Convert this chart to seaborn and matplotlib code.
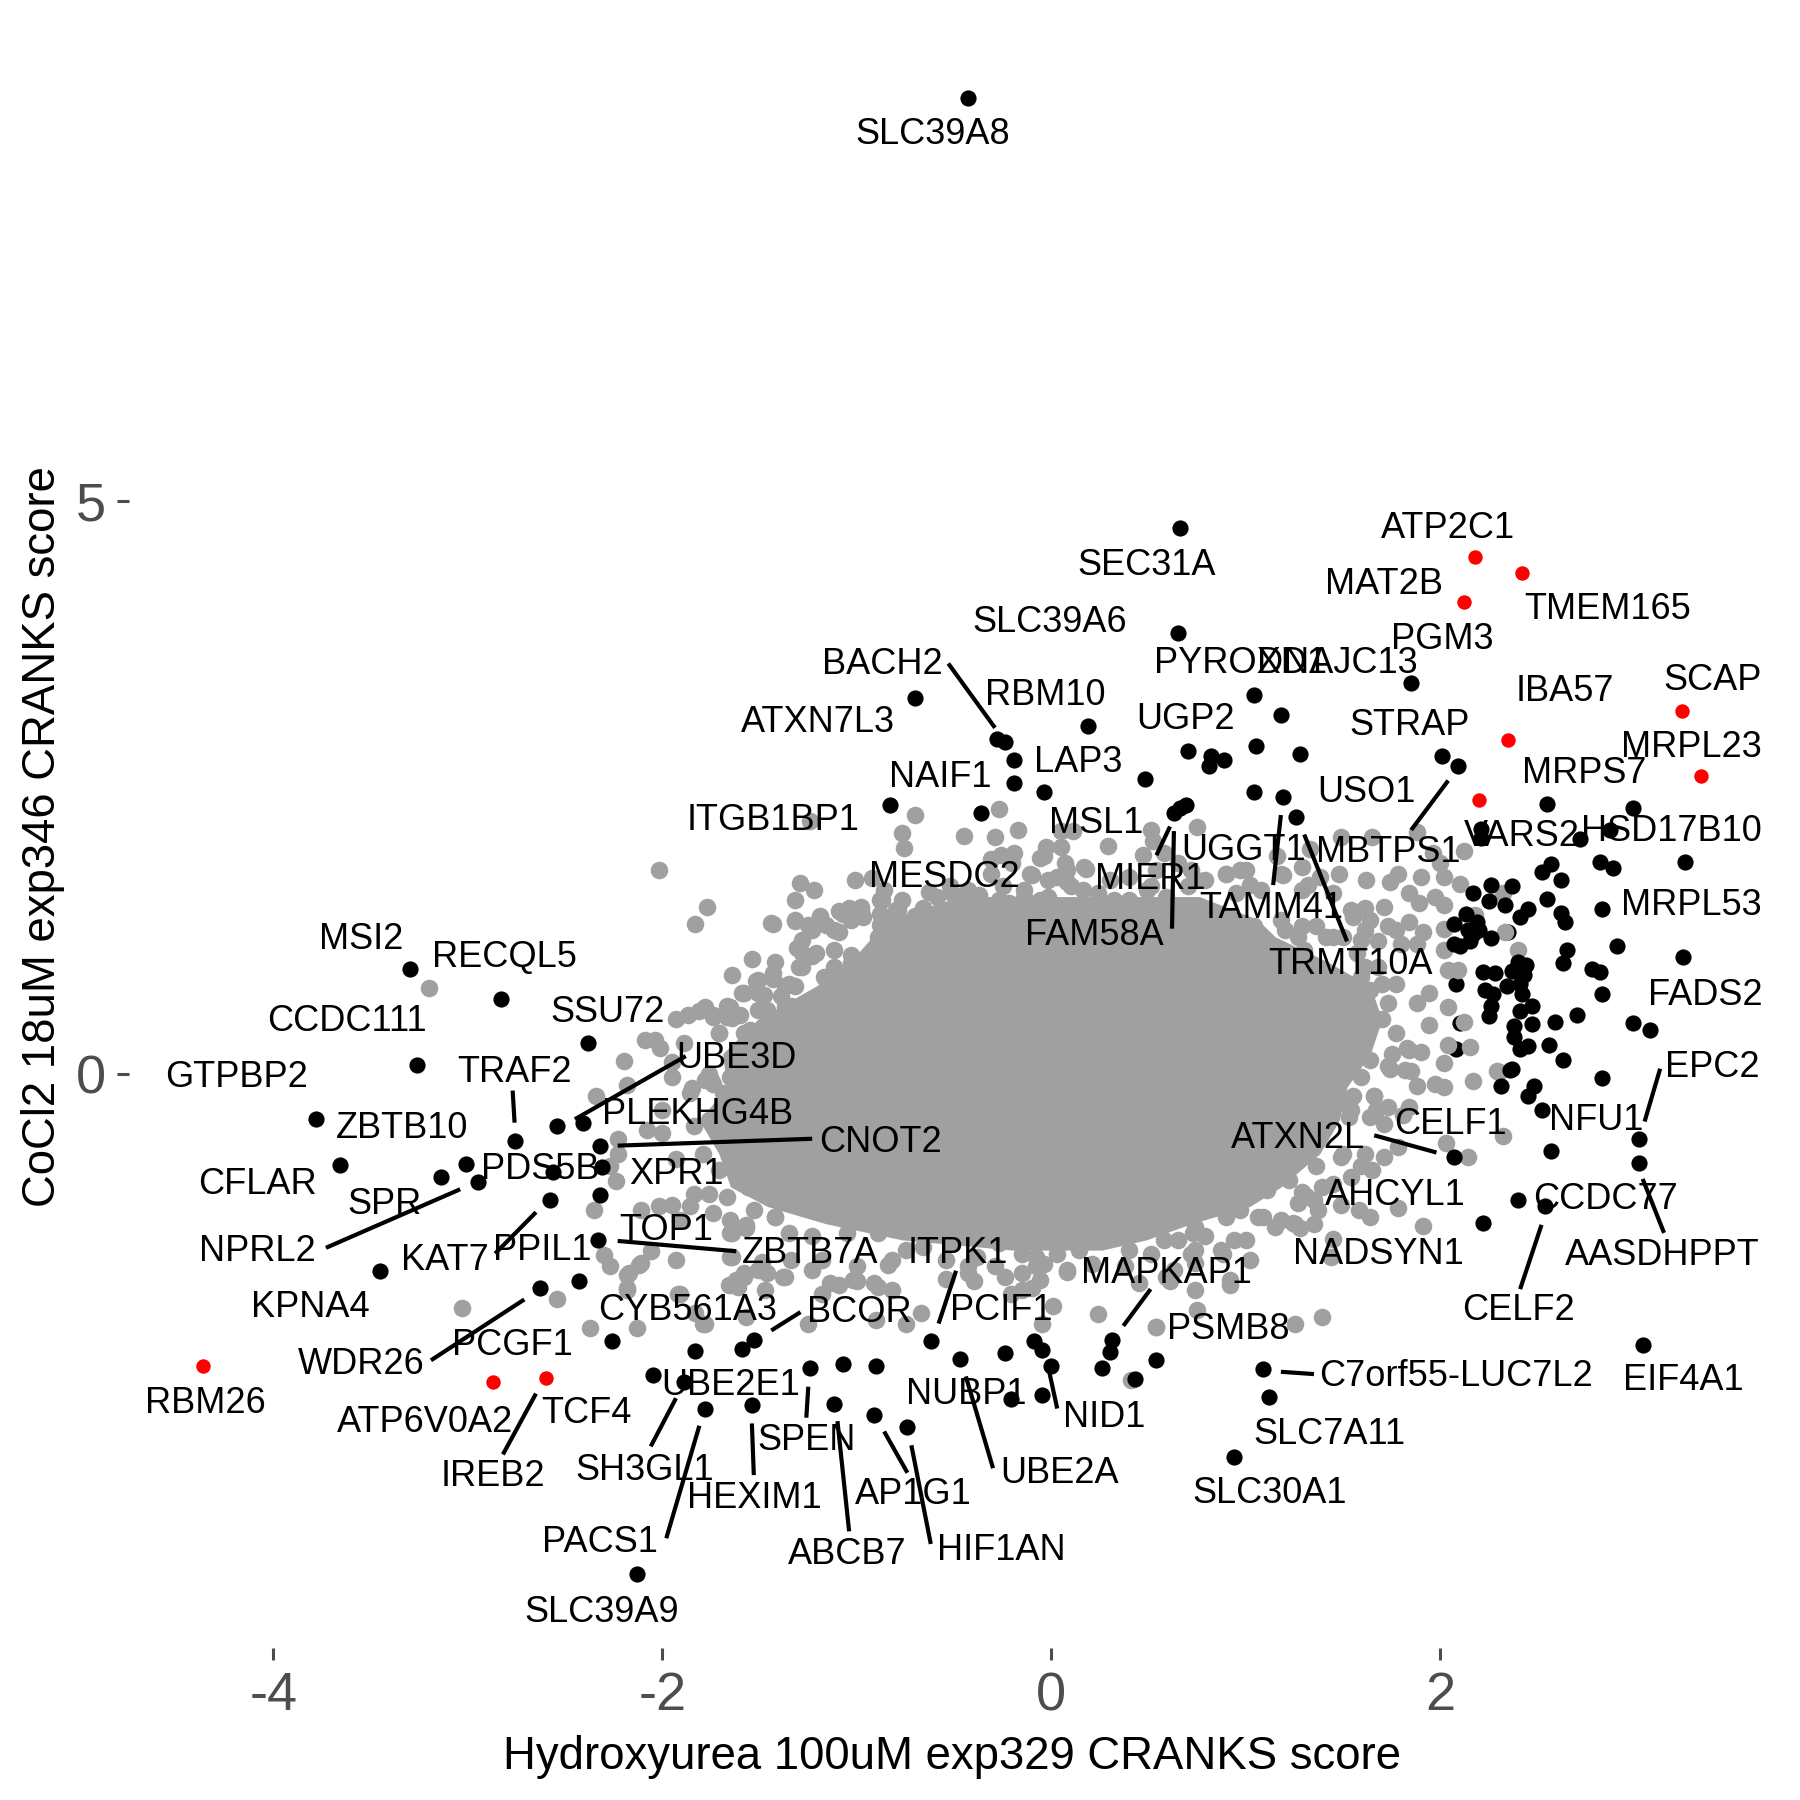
import numpy as np
import pandas as pd
import matplotlib.pyplot as plt
import seaborn as sns

# dense middle of the cloud, read row by row
core_y = [1.55, 1.35, 1.20, 0.99, 0.77, 0.48, 0.18, -0.11, -0.40, -0.69, -0.98, -1.15, -1.30, -1.44, -1.53]
core_left = [-0.47, -0.84, -0.92, -1.03, -1.21, -1.51, -1.69, -1.67, -1.81, -1.71, -1.65, -1.46, -1.16, -0.77, -0.20]
core_right = [0.76, 1.06, 1.15, 1.41, 1.64, 1.70, 1.64, 1.52, 1.48, 1.38, 1.18, 1.02, 0.72, 0.49, 0.26]

# lumps along the edge of the dense middle
band_x = [-0.88, -0.80, -0.66, -0.59, -0.45, -0.37, -0.25, -0.22, -0.11, -0.14, -0.02, 0.08, 0.17, 0.24, 0.26, 0.40, 0.49, 0.59, 0.70, 0.79,
          0.79, 0.90, 1.00, 0.88, 1.04, 1.18, 1.29, 1.36, 1.41, 1.50, 1.11, 1.30, 1.59, 1.64, 1.73, 1.61, 1.70, 1.77, 1.75, 1.64,
          1.59, 1.73, 1.66, 1.54, 1.64, 1.50, 1.36, 1.22, 1.11, 0.97, 1.00, 0.90, 0.74, 0.79, 0.65, 0.58, 0.51, 0.40, 0.26, 0.14,
          0.03, -0.04, -0.15, -0.27, -0.38, -0.52, -0.66, -0.75, -0.89, -1.05, -1.23, -1.35, -1.42, -1.53, -1.58, -1.67, -1.71, -1.60, -1.76, -1.67,
          -1.74, -1.65, -1.58, -1.67, -1.74, -1.46, -1.51, -1.37, -1.32, -1.28, -1.21, -1.12, -1.03, -1.12, -0.89, -0.80, -0.98, -1.07, -1.19,
          -0.77, -0.87, -0.70, -0.59, -0.52, -0.43, -0.31, -0.20, -0.04, 0.03, 0.10, 0.30, 0.40, 0.54, 0.65, 0.58, 0.72,
          0.95, 1.08, 1.18, 1.29, 1.38, 1.45, 1.54, 1.64, 1.57, 1.68, 1.61, 1.77, 1.70,
          1.45, 1.73, 1.59, 1.45, 1.31, 1.25, 1.18, 1.06, 1.00, 0.88, 0.92, 0.72,
          0.63, 0.21, 0.08, -0.08, -0.06, -0.15, -0.29, -0.43, -0.82, -0.91, -1.02, -1.14, -1.23, -1.37, -1.51, -1.58, -1.65, -1.62,
          -1.74, -1.65, -1.76, -1.78, -1.76, -1.71, -1.78, -1.65, -1.58, -1.51, -1.43, -1.37, -1.30, -1.44, -1.32, -1.23, -1.03]
band_y = [1.52, 1.43, 1.45, 1.55, 1.51, 1.56, 1.64, 1.49, 1.75, 1.55, 1.55, 1.78, 1.81, 1.58, 1.49, 1.52, 1.61, 1.55, 1.64, 1.69,
          1.38, 1.75, 1.78, 1.35, 1.29, 1.35, 1.29, 1.29, 1.20, 1.20, 1.11, 1.08, 0.85, 0.74, 0.62, 0.50, 0.48, 0.36, 0.18, 0.13,
          -0.02, 0.07, -0.19, -0.31, -0.37, -0.69, -0.80, -0.92, -1.01, -1.18, -1.06, -1.24, -1.33, -1.41, -1.44, -1.44, -1.56, -1.53, -1.44, -1.53,
          -1.56, -1.65, -1.56, -1.47, -1.59, -1.47, -1.50, -1.53, -1.38, -1.38, -1.41, -1.38, -1.24, -1.18, -1.33, -1.07, -0.83, -0.80, -0.40, -0.22,
          -0.08, -0.02, 0.36, 0.50, 0.50, 0.56, 0.71, 0.59, 0.77, 1.06, 1.06, 0.94, 0.97, 1.26, 1.20, 1.32, 1.43, 1.40, 1.38,
          1.52, 1.38, 1.38, 1.40, 1.64, 1.61, 1.75, 1.84, 1.90, 1.72, 1.64, 1.69, 1.72, 1.78, 1.84, 1.93, 1.78,
          1.58, 1.61, 1.75, 1.61, 1.72, 1.58, 1.43, 1.35, 1.06, 0.94, 0.94, 0.79, 0.79,
          -0.19, -0.28, -0.80, -0.95, -1.06, -1.30, -1.27, -1.24, -1.44, -1.56, -1.79, -1.56,
          -1.70, -1.65, -1.70, -1.59, -1.79, -1.73, -1.67, -1.73, -1.62, -1.82, -1.79, -1.82, -1.70, -1.76, -1.70, -1.76, -1.59, -1.79,
          -1.21, -1.27, -1.04, -0.05, 0.00, 0.36, 0.59, 0.59, 0.71, 0.82, 0.88, 0.77, 0.94, 1.32, 1.35, 1.26, 1.35]

# gray points around the edge of the cloud
gray_x = [-2.02, -0.27, -0.70, -1.24, -0.77, -0.76, -0.45, -0.29, -0.17, -0.19, -0.26, -0.31, -0.03, -0.06, 0.05, 0.07, 0.05, 0.11, 0.29, 0.51, 0.52, 0.47, 0.75,
          -1.01, -0.92, -1.29, -1.22, -1.32, -1.77, -1.83, -1.43, -1.32, -1.25, -1.19, -1.09, -1.04, -0.98, -0.97, -0.86, -0.87, -0.88, -0.79, -0.88,
          -0.66, -0.60, -0.75, -0.63, -0.51, -0.40, -0.10, -0.14, -0.02, 0.08, 0.18, 0.16, -0.27, -0.06, 0.32, 0.51, 0.75,
          -1.16, -1.09, -1.28, -1.12, -1.03, -1.31, -1.23, -1.42, -1.54, -1.64, -1.52, -1.43, -1.35, -1.28, -1.17, -1.08, -0.96,
          -1.59, -1.48, -1.39, -1.34, -1.51, -1.67, -1.74, -1.81, -1.87, -1.93, -1.60, -1.64, -1.71, -1.55, -2.09, -2.04, -2.01, -1.89, -2.20, -2.18,
          -1.95, -1.95, -1.85, -1.75, -1.69,
          -3.20, -2.34, -2.23, -2.08, -2.00, -2.23, -2.27, -2.24, -2.35, -2.30, -2.27, -2.17, -2.11, -1.93, -2.06, -2.18, -2.37, -2.13, -2.54, -3.03,
          -1.79, -1.91, -1.38, -1.47, -1.61, -1.64, -1.57, -1.64, -1.49, -1.84, -1.86, -1.91, -2.02, -2.11, -1.95, -1.93, -1.79, -1.63, -2.00, -1.86, -1.75,
          -1.84, -1.68, -1.49, -1.56, -1.42,
          -2.18, -2.12, -2.18, -1.92, -1.65, -1.57, -1.58, -1.49, -1.66, -1.83, -1.78, -1.57,
          -1.25, -1.18, -1.09, -1.00, -0.89, -0.82, -0.75, -0.90, -0.67, -0.54, -0.40, -0.24, -0.15, 0.01, -0.05, -0.10, -0.21, 0.08, 0.24, 0.54, 0.41,
          0.45, 0.61, 0.38, -1.00, -0.84, -1.18, -1.34, -1.46, -0.43, -0.54, -0.08, 0.74, 0.74,
          2.12, 2.15, 2.04, 2.02, 1.90, 1.83, 1.82, 1.74, 2.30, 2.17, 2.02, 1.97, 1.88, 1.66, 1.67, 1.71, 1.55, 1.50, 1.53, 1.84, 1.81,
          2.32, 2.14, 2.03, 1.78, 1.71, 1.61, 1.49, 1.65, 1.54, 1.39, 1.29, 1.27, 1.35, 1.37, 1.49, 1.58, 1.64, 1.78, 1.91,
          1.35, 1.28, 1.24, 1.15, 1.09, 1.45, 1.44, 0.94, 0.87, 1.02, 0.73, 0.74, 0.92, 0.59, 0.75, 0.54, 1.25, 1.39,
          1.88, 2.12, 2.00, 1.96, 1.65, 1.49, 1.33, 1.16, 1.78, 1.74, 1.90, 2.02, 2.10, 1.62, 1.48, 1.29, 1.19, 1.32, 0.90, 0.97, 1.02,
          1.84, 1.89, 1.97, 2.02, 2.32, 2.18, 2.33, 1.61, 1.71, 1.55, 1.91, 2.02, 1.84, 1.77, 1.73, 1.61, 1.59, 1.68, 1.80, 1.88, 2.02, 2.40, 2.09, 2.04,
          1.94, 2.04, 1.88, 1.94, 2.29, 1.84, 1.85, 1.45, 1.27, 1.20]
gray_y = [1.78, 2.31, 2.26, 2.21, 2.10, 1.97, 2.08, 2.07, 2.13, 1.93, 1.91, 1.88, 1.98, 1.89, 1.98, 1.84, 2.12, 2.12, 1.99, 2.13, 2.03, 1.91, 2.16,
          1.69, 1.71, 1.67, 1.61, 1.52, 1.46, 1.31, 1.31, 1.34, 1.30, 1.37, 1.42, 1.45, 1.46, 1.37, 1.61, 1.52, 1.40, 1.43, 1.30,
          1.43, 1.40, 1.29, 1.59, 1.58, 1.55, 1.74, 1.61, 1.69, 1.68, 1.79, 1.61, 1.52, 1.52, 1.52, 1.64, 1.69,
          1.30, 1.24, 1.17, 1.08, 1.04, 1.10, 1.03, 0.98, 1.01, 0.87, 0.81, 0.83, 0.79, 0.94, 0.85, 0.87, 0.91,
          0.71, 0.69, 0.68, 0.60, 0.56, 0.60, 0.52, 0.55, 0.52, 0.48, 0.52, 0.49, 0.36, 0.39, 0.30, 0.30, 0.23, 0.27, 0.12, -0.09,
          0.11, -0.02, -0.12, -0.06, -0.16,
          0.75, -0.19, -0.56, -0.48, -0.51, -0.69, -0.80, -0.93, -1.18, -1.57, -1.67, -1.73, -1.64, -1.62, -1.54, -1.86, -2.21, -2.21, -1.96, -2.03,
          -2.17, -1.91, -1.76, -1.88, -1.85, -1.38, -1.31, -1.59, -1.63, -1.04, -1.15, -1.27, -1.15, -1.18, -1.14, -0.74, -0.69, -0.80, -0.31, -0.16, -0.05,
          -0.45, -0.48, -0.54, -0.98, -1.24,
          -1.75, -1.66, -1.88, -1.91, -1.38, -1.34, -1.73, -1.70, -1.83, -2.08, -2.17, -2.11,
          -2.17, -1.91, -1.83, -1.80, -1.85, -1.88, -2.17, -2.14, -2.08, -1.78, -1.80, -1.76, -1.88, -2.02, -2.17, -1.86, -1.91, -1.72, -2.09, -2.20, -2.66,
          -1.82, -1.80, -1.67, -1.67, -1.66, -1.62, -1.62, -1.73, -1.67, -1.62, -1.67, -1.64, -1.88,
          0.46, 0.24, 0.26, 0.10, 0.20, 0.23, 0.04, 0.05, 0.02, -0.06, -0.11, -0.08, -0.10, -0.19, -0.31, -0.43, -0.19, -0.25, -0.37, -0.28, -0.35,
          -0.54, -0.72, -0.60, -0.63, -0.72, -0.69, -0.72, -0.83, -0.89, -0.98, -1.02, -1.12, -1.09, -1.18, -1.14, -1.18, -1.24, -1.16, -1.32,
          -1.30, -1.34, -1.29, -1.33, -1.24, -1.43, -1.59, -1.44, -1.53, -1.62, -1.38, -1.53, -1.83, -1.76, -2.05, -2.20, -2.17, -2.11,
          2.11, 1.95, 1.84, 1.93, 2.07, 2.07, 1.96, 1.90, 1.75, 1.68, 1.72, 1.72, 1.66, 1.69, 1.75, 1.81, 1.74, 1.65, 1.75, 1.78, 1.65,
          1.58, 1.49, 1.55, 1.48, 1.58, 1.39, 1.24, 1.45, 1.46, 1.37, 1.24, 1.27, 1.33, 1.26, 1.29, 1.26, 1.17, 1.16, 1.14, 1.14, 1.08, 1.08, 0.91, 0.91,
          0.71, 0.59, 0.62, 0.43, 0.03, 0.21, 0.03, 1.20, 1.20, 1.26]

# black points that sit behind the gray ones
under_x = [2.35, 2.08, 2.10, 2.08]
under_y = [1.24, 0.79, 0.45, 0.22]

black_x = [-0.43, 0.66, 0.65, 1.85, -0.70, 1.04, 1.18, 1.05, 1.28, 0.82, 0.81, 0.89, 2.01, 2.09, 1.04, 1.19, 1.26, 2.55, 2.99, 2.87, 2.72, 2.21, 2.21,
           3.26, 2.57, 2.52, 2.82, 2.89, 2.62, 2.26, 2.37, 2.17, 2.25, 2.33, 2.55, 2.45, 2.41, 2.62, 2.64, 2.83, 2.13, 2.07, 2.19, 2.14, 2.20, 2.17, 2.26,
           2.07, 2.10, 2.15, 2.91, 2.65, 2.63, 3.25, 2.40, 2.44, 2.22, 2.28, 2.37, 2.43, 2.78, 2.82, 2.34, 2.41, 2.23, 2.27, 2.42, 2.83, 2.47, 2.26, 2.41,
           2.70, 2.25, 2.59, 2.47, 2.38, 2.38, 2.99, 3.08, 2.56, 2.45, 2.41, 2.63, 2.37, 2.83, 2.31, 2.48, 2.45, 2.36, 2.52,
           3.02, 3.02, 2.57, 2.40, 2.54, 2.22, 2.07, 3.04, 1.09, 1.12, 0.94, 0.54,
           -2.31, -2.56, -2.32, -2.58, -2.33, -2.43, -2.63, -2.26, -1.83, -1.53, -1.59, -2.05, -1.89, -1.78, -1.54, -1.24, -1.07, -0.90, -1.12, -0.91, -0.74,
           -0.62, -0.47, -0.24, -0.09, -0.05, 0.00, -0.21, -0.05, 0.31, 0.30, 0.26, 0.43, -2.13,
           -3.30, -2.83, -3.26, -2.38, -3.78, -2.41, -2.54, -2.76, -2.32, -3.66, -3.01, -3.14, -2.95, -3.45,
           -0.83, -0.36, 0.19, -0.28, -0.24, -0.19, -0.19, -0.04, 0.48, 0.70, 0.63, 0.66, 0.69]
black_y = [8.51, 4.76, 3.85, 3.41, 3.28, 3.31, 3.13, 2.86, 2.79, 2.77, 2.69, 2.74, 2.77, 2.69, 2.46, 2.42, 2.24, 2.36, 2.32, 2.13, 2.05, 2.14, 2.06,
           1.85, 1.83, 1.76, 1.85, 1.80, 1.69, 1.65, 1.64, 1.58, 1.51, 1.48, 1.53, 1.44, 1.37, 1.41, 1.33, 1.44, 1.40, 1.31, 1.33, 1.26, 1.26, 1.22, 1.19,
           1.14, 1.12, 1.16, 1.12, 1.08, 0.97, 1.02, 0.98, 0.95, 0.89, 0.88, 0.90, 0.87, 0.92, 0.89, 0.77, 0.79, 0.74, 0.70, 0.70, 0.70, 0.60, 0.60, 0.55,
           0.52, 0.51, 0.46, 0.44, 0.42, 0.33, 0.45, 0.39, 0.26, 0.25, 0.22, 0.13, 0.05, -0.03, -0.10, -0.10, -0.19, 0.04, -0.31,
           -0.56, -0.77, -0.67, -1.09, -1.15, -1.29, -0.72, -2.36, -2.57, -2.81, -3.33, -2.49,
           -0.81, -0.85, -1.05, -1.09, -1.44, -1.80, -1.86, -2.32, -2.41, -2.31, -2.39, -2.62, -2.68, -2.91, -2.88, -2.56, -2.52, -2.54, -2.87, -2.97, -3.07,
           -2.32, -2.48, -2.43, -2.32, -2.40, -2.54, -2.83, -2.79, -2.31, -2.42, -2.56, -2.65, -4.35,
           0.92, 0.66, 0.08, 0.27, -0.39, -0.42, -0.45, -0.58, -0.62, -0.79, -0.78, -0.89, -0.94, -1.71,
           2.35, 2.28, 3.04, 2.92, 2.90, 2.74, 2.54, 2.46, 2.57, 2.82, 2.28, 2.32, 2.35]

red_x = [-4.36, -2.87, -2.60, 3.24, 2.35, 3.34, 2.20, 2.18, 2.42, 2.12]
red_y = [-2.54, -2.68, -2.64, 3.17, 2.91, 2.60, 2.39, 4.51, 4.37, 4.12]

label_names = ['SLC39A8', 'SEC31A', 'ATP2C1', 'MAT2B', 'TMEM165', 'SLC39A6', 'PGM3', 'BACH2', 'PYROXD1', 'DNAJC13',
               'SCAP', 'IBA57', 'RBM10', 'ATXN7L3', 'UGP2', 'STRAP', 'MRPL23', 'LAP3', 'NAIF1', 'MRPS7',
               'USO1', 'ITGB1BP1', 'MSL1', 'VARS2', 'HSD17B10', 'UGGT1', 'MBTPS1', 'MESDC2', 'MIER1', 'TAMM41',
               'MRPL53', 'FAM58A', 'MSI2', 'RECQL5', 'TRMT10A', 'FADS2', 'CCDC111', 'SSU72', 'UBE3D', 'TRAF2',
               'GTPBP2', 'EPC2', 'PLEKHG4B', 'NFU1', 'ZBTB10', 'CELF1', 'ATXN2L', 'CNOT2', 'PDS5B', 'XPR1',
               'CFLAR', 'AHCYL1', 'CCDC77', 'SPR', 'TOP1', 'NPRL2', 'PPIL1', 'ZBTB7A', 'ITPK1', 'NADSYN1',
               'AASDHPPT', 'KAT7', 'MAPKAP1', 'KPNA4', 'CYB561A3', 'BCOR', 'PCIF1', 'CELF2', 'PSMB8', 'PCGF1',
               'WDR26', 'C7orf55-LUC7L2', 'EIF4A1', 'UBE2E1', 'NUBP1', 'RBM26', 'TCF4', 'NID1', 'ATP6V0A2', 'SLC7A11',
               'SPEN', 'SH3GL1', 'IREB2', 'UBE2A', 'AP1G1', 'HEXIM1', 'SLC30A1', 'PACS1', 'ABCB7', 'HIF1AN', 'SLC39A9']
label_x = [-0.61, 0.49, 2.04, 1.71, 2.86, -0.01, 2.01, -0.87, 0.97, 1.47,
           3.40, 2.64, -0.03, -1.20, 0.69, 1.84, 3.29, 0.14, -0.57, 2.74,
           1.62, -1.43, 0.23, 2.42, 3.19, 0.99, 1.73, -0.55, 0.51, 1.13,
           3.29, 0.22, -3.55, -2.81, 1.54, 3.36, -3.62, -2.28, -1.62, -2.76,
           -4.19, 3.40, -1.82, 2.80, -3.34, 2.05, 1.27, -0.88, -2.63, -1.93,
           -4.08, 1.77, 2.85, -3.43, -1.98, -4.08, -2.62, -1.24, -0.48, 1.68,
           3.14, -3.12, 0.59, -3.81, -1.87, -0.99, -0.26, 2.40, 0.91, -2.77,
           -3.55, 2.08, 3.25, -1.65, -0.44, -4.35, -2.39, 0.27, -3.22, 1.43,
           -1.26, -2.09, -2.87, 0.04, -0.71, -1.53, 1.12, -2.32, -1.05, -0.26, -2.31]
label_y = [8.19, 4.43, 4.76, 4.27, 4.05, 3.94, 3.79, 3.57, 3.58, 3.58,
           3.43, 3.34, 3.30, 3.07, 3.09, 3.04, 2.85, 2.72, 2.59, 2.62,
           2.46, 2.21, 2.19, 2.07, 2.12, 1.95, 1.93, 1.72, 1.70, 1.45,
           1.47, 1.21, 1.18, 1.02, 0.96, 0.69, 0.46, 0.54, 0.14, 0.02,
           -0.03, 0.06, -0.35, -0.40, -0.47, -0.44, -0.56, -0.59, -0.83, -0.87,
           -0.96, -1.05, -1.09, -1.13, -1.36, -1.54, -1.53, -1.56, -1.56, -1.57,
           -1.58, -1.62, -1.73, -2.03, -2.06, -2.07, -2.06, -2.06, -2.22, -2.36,
           -2.53, -2.63, -2.67, -2.71, -2.79, -2.87, -2.95, -2.99, -3.03, -3.14,
           -3.19, -3.45, -3.50, -3.48, -3.66, -3.69, -3.65, -4.08, -4.18, -4.15, -4.69]

# connector lines between labels and points
seg_x0 = [-0.53, -1.88, -2.77, -1.23, -3.73, -2.65, -2.23, -2.71, -2.65, -1.93, -1.81, -1.54, -1.25, -1.10, -0.86, -0.72, -0.44, -0.02,
          -1.29, -0.49, 0.51, 1.66, 3.13, 3.04, 2.52, 1.18, 2.04, 1.18, 1.30, 0.61, 0.63]
seg_y0 = [3.58, 0.16, -0.14, -0.56, -1.51, -1.20, -1.45, -1.96, -2.78, -2.82, -3.06, -3.04, -2.72, -3.02, -3.11, -3.23, -2.63, -2.52,
          -2.07, -1.71, -1.87, -0.53, 0.05, -0.91, -1.31, -2.59, 2.56, 2.26, 2.09, 2.16, 2.12]
seg_x1 = [-0.29, -2.45, -2.76, -2.23, -3.04, -2.86, -1.62, -3.19, -2.82, -2.06, -1.98, -1.53, -1.26, -1.04, -0.74, -0.62, -0.30, 0.03,
          -1.44, -0.58, 0.37, 1.98, 3.05, 3.15, 2.41, 1.35, 1.85, 1.14, 1.52, 0.54, 0.62]
seg_y1 = [3.02, -0.39, -0.42, -0.62, -1.00, -1.56, -1.54, -2.49, -3.31, -3.24, -4.04, -3.49, -2.99, -3.98, -3.47, -4.09, -3.43, -2.91,
          -2.23, -2.17, -2.19, -0.68, -0.41, -1.38, -1.87, -2.61, 2.13, 1.65, 1.16, 1.91, 1.27]

x_ticks = [-4, -2, 0, 2]
y_ticks = [0, 5]

sns.set_theme(style='white')
plt.rcParams['font.family'] = ['Liberation Sans', 'DejaVu Sans']
plt.rcParams['axes.unicode_minus'] = False

fig = plt.figure(figsize=(9, 9), dpi=200)
ax = fig.add_axes([0.0714, 0.0842, 0.9152, 0.9024])

under = pd.DataFrame({'x': under_x, 'y': under_y})
gray = pd.DataFrame({'x': gray_x + band_x, 'y': gray_y + band_y})
black = pd.DataFrame({'x': black_x, 'y': black_y})
red = pd.DataFrame({'x': red_x, 'y': red_y})

sns.scatterplot(data=under, x='x', y='y', color='black', s=34, linewidth=0, ax=ax, zorder=1)
ax.fill_betweenx(core_y, core_left, core_right, color='#A0A0A0', linewidth=0, zorder=2)
sns.scatterplot(data=gray, x='x', y='y', color='#A0A0A0', s=40, linewidth=0, ax=ax, zorder=2)
sns.scatterplot(data=black, x='x', y='y', color='black', s=34, linewidth=0, ax=ax, zorder=3)
sns.scatterplot(data=red, x='x', y='y', color='red', s=27, linewidth=0, ax=ax, zorder=3)

for x0, y0, x1, y1 in zip(seg_x0, seg_y0, seg_x1, seg_y1):
    ax.plot([x0, x1], [y0, y1], color='black', lw=1.5, solid_capstyle='butt', zorder=4)

for name, x, y in zip(label_names, label_x, label_y):
    ax.text(x, y, name, ha='center', va='center', fontsize=13, color='black', zorder=5)

ax.set_xlim(-4.745, 3.725)
ax.set_ylim(-5.0, 9.15)
ax.set_xticks(x_ticks)
ax.set_yticks(y_ticks)
ax.tick_params(axis='both', length=4.2, width=1.1, color='#4D4D4D', labelcolor='#4D4D4D', labelsize=19.5, pad=4, bottom=True, left=True)
ax.set_xlabel('Hydroxyurea 100uM exp329 CRANKS score', fontsize=16.4, color='black', labelpad=5)
ax.set_ylabel('CoCl2 18uM exp346 CRANKS score', fontsize=16.4, color='black', labelpad=4)
sns.despine(ax=ax, left=True, bottom=True)

fig.savefig('out.png', dpi=200)
